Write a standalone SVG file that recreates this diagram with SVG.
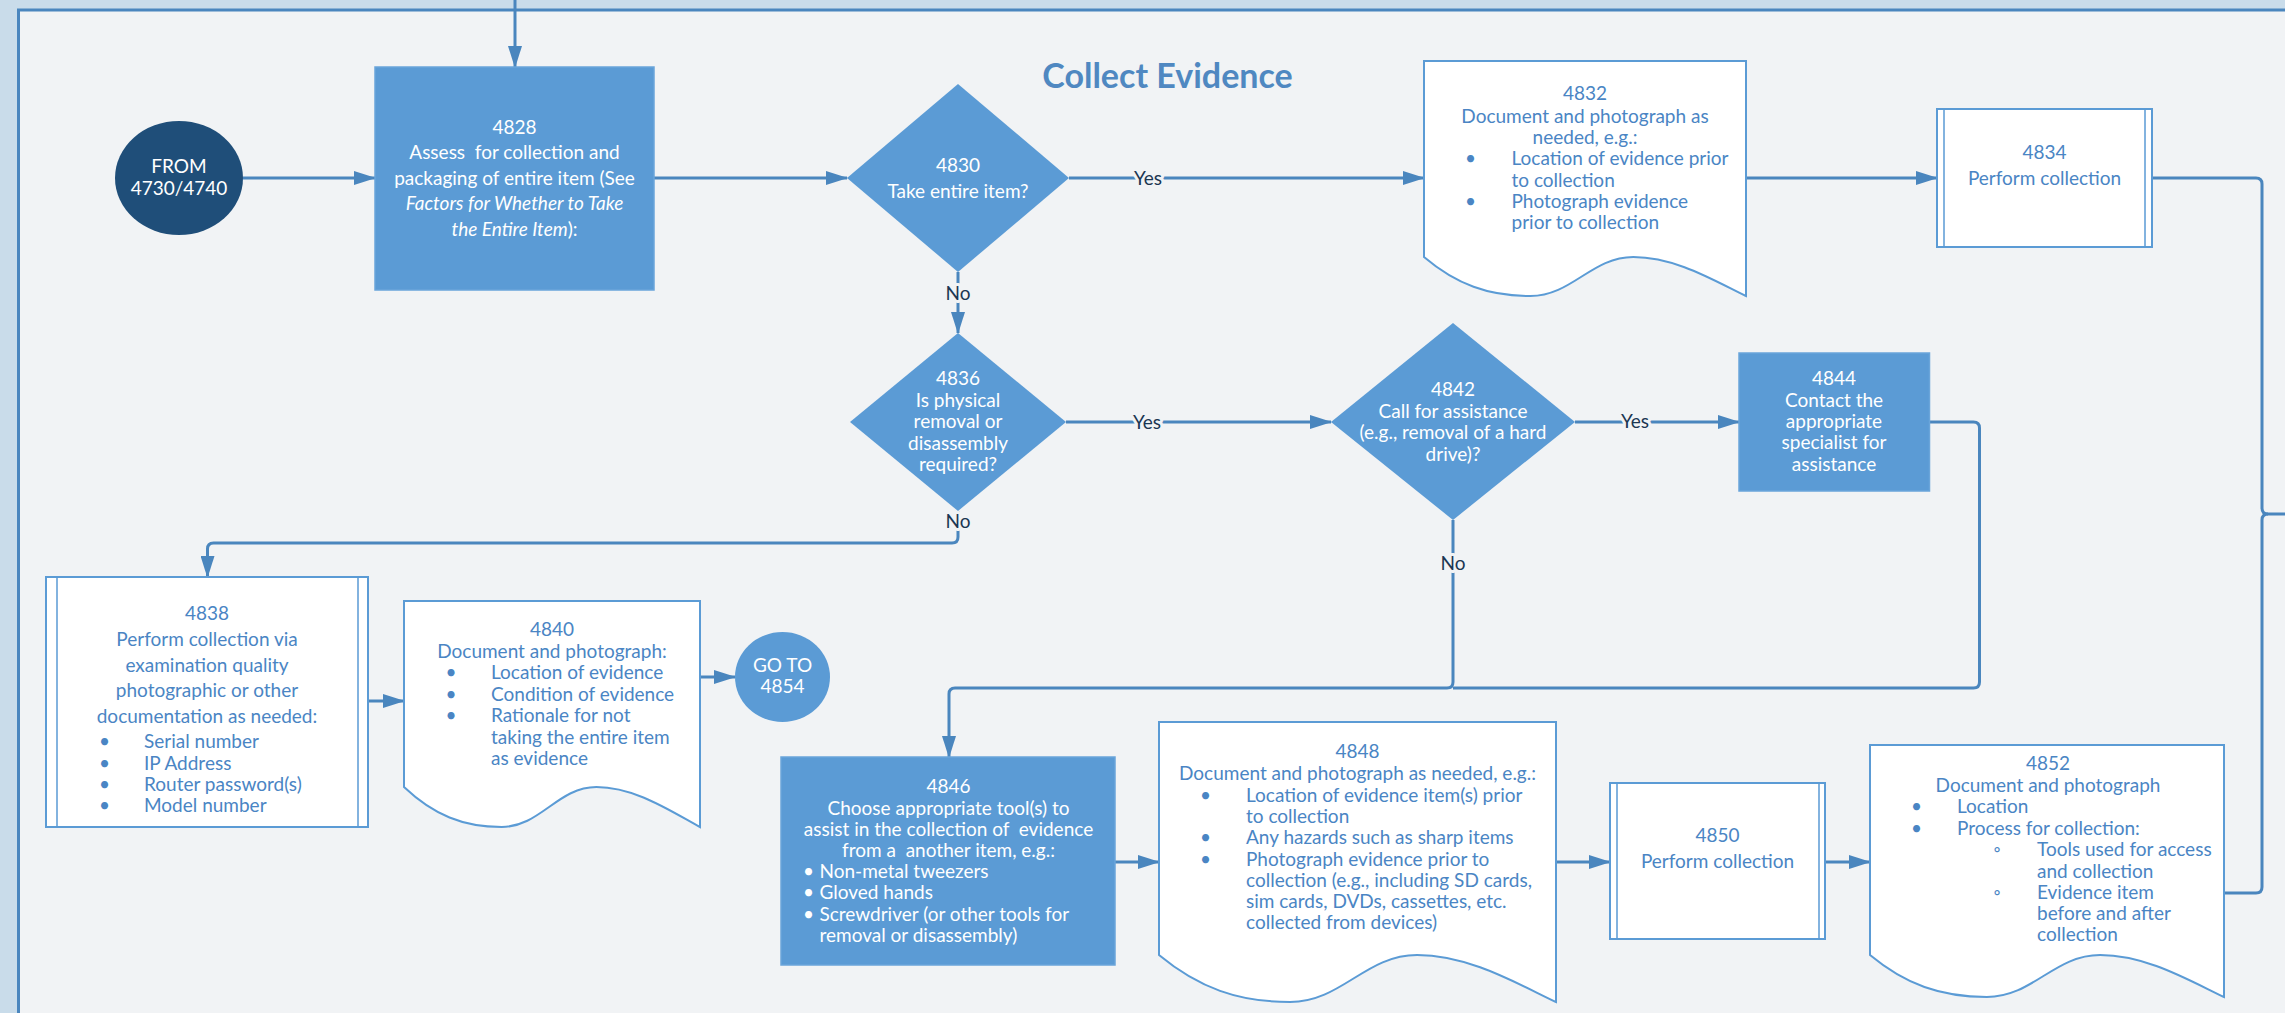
<svg xmlns="http://www.w3.org/2000/svg" width="2285" height="1013" viewBox="0 0 2285 1013">
<style>
text{font-family:Lato,"Liberation Sans",sans-serif;font-size:19px;white-space:pre}
.c{text-anchor:middle}
.w{fill:#ffffff}
.b{fill:#4A85C4}
.lbl{fill:#1B3652;text-anchor:middle;stroke:#F1F3F5;stroke-width:6px;paint-order:stroke;stroke-linejoin:round}
.fill{fill:#5B9BD5;stroke:#6AA5DA;stroke-width:1.5}
.wbox{fill:#ffffff;stroke:#5B9BD5;stroke-width:2}
.inner{stroke:#5B9BD5;stroke-width:1.5;fill:none}
.con path{fill:none;stroke:#4A86BE;stroke-width:3}
.arr{marker-end:url(#ah)}
</style>
<defs>
<marker id="ah" viewBox="0 0 22 14" refX="21" refY="7" markerWidth="22" markerHeight="14" markerUnits="userSpaceOnUse" orient="auto">
<path d="M0,0 L22,7 L0,14 Z" fill="#4A86BE"/>
</marker>
</defs>
<rect x="0" y="0" width="2285" height="1013" fill="#C9DCEA"/>
<rect x="18.5" y="10" width="2300" height="1050" fill="#F1F3F5" stroke="#4A86BE" stroke-width="3"/>
<text x="1167.5" y="88" class="c" style="font-size:34px;font-weight:bold;fill:#4F88C1">Collect Evidence</text>

<g id="connectors" class="con">
<path class="arr" d="M515,0 V67"/>
<path class="arr" d="M243,178 H375"/>
<path class="arr" d="M654,178 H847"/>
<path class="arr" d="M1069,178 H1424"/>
<path class="arr" d="M958,272 V333"/>
<path class="arr" d="M1746,178 H1937"/>
<path d="M2152,178 H2256 Q2262,178 2262,184 V508 Q2262,514 2268,514 H2290"/>
<path d="M2224,893 H2256 Q2262,893 2262,887 V520 Q2262,514 2268,514"/>
<path class="arr" d="M1066,422 H1331"/>
<path class="arr" d="M1575,422 H1739"/>
<path class="arr" d="M958,511 V537 Q958,543 952,543 H213.5 Q207.5,543 207.5,549 V577"/>
<path class="arr" d="M1453,520 V682 Q1453,688 1447,688 H955 Q949,688 949,694 V757"/>
<path d="M1929.5,422 H1973.5 Q1979.5,422 1979.5,428 V682 Q1979.5,688 1973.5,688 H1453"/>
<path class="arr" d="M368,701 H404"/>
<path class="arr" d="M700,677 H735"/>
<path class="arr" d="M1115,862 H1159"/>
<path class="arr" d="M1556,862 H1610"/>
<path class="arr" d="M1825,862 H1870"/>
<text class="lbl" x="1148" y="184.5">Yes</text>
<text class="lbl" x="958" y="299.5">No</text>
<text class="lbl" x="1147" y="428.5">Yes</text>
<text class="lbl" x="1635" y="427.5">Yes</text>
<text class="lbl" x="958" y="528">No</text>
<text class="lbl" x="1453" y="569.5">No</text>
</g>

<g id="from">
<ellipse cx="179" cy="178" rx="64" ry="57" fill="#1F4E79"/>
<text class="c w" x="179" y="173">FROM</text>
<text class="c w" x="179" y="195">4730/4740</text>
</g>

<g id="n4828">
<rect class="fill" x="375" y="67" width="279" height="223"/>
<text class="c w" x="514.5" y="133.5">4828</text>
<text class="c w" x="514.5" y="158.5">Assess  for collection and</text>
<text class="c w" x="514.5" y="184.5">packaging of entire item (See</text>
<text class="c w" x="514.5" y="209.5" font-style="italic">Factors for Whether to Take</text>
<text class="c w" x="514.5" y="235.5"><tspan font-style="italic">the Entire Item</tspan>):</text>
</g>

<g id="n4830">
<polygon fill="#5B9BD5" points="958,84 1069,178 958,272 847,178"/>
<text class="c w" x="958" y="171.5">4830</text>
<text class="c w" x="958" y="197.5">Take entire item?</text>
</g>

<g id="n4832">
<path class="wbox" d="M1424,257 C1456.2,284.3 1488.4,296 1530.3,296 C1572.1,296 1591.4,257 1633.3,257 C1675.2,257 1713.8,280.4 1746,296 V61 H1424 Z"/>
<text class="c b" x="1585" y="100">4832</text>
<text class="c b" x="1585" y="122.5">Document and photograph as</text>
<text class="c b" x="1585" y="143.5">needed, e.g.:</text>
<text class="c b" x="1470.5" y="164.5">•</text>
<text class="b" x="1511.5" y="164.5">Location of evidence prior</text>
<text class="b" x="1511.5" y="186.5">to collection</text>
<text class="c b" x="1470.5" y="207.5">•</text>
<text class="b" x="1511.5" y="207.5">Photograph evidence</text>
<text class="b" x="1511.5" y="228.5">prior to collection</text>
</g>

<g id="n4834">
<rect class="wbox" x="1937" y="109" width="215" height="138"/>
<path class="inner" d="M1944,109 V247 M2145,109 V247"/>
<text class="c b" x="2044.5" y="158.5">4834</text>
<text class="c b" x="2044.5" y="184.5">Perform collection</text>
</g>

<g id="n4836">
<polygon fill="#5B9BD5" points="958,333 1066,422 958,511 850,422"/>
<text class="c w" x="958" y="384.5">4836</text>
<text class="c w" x="958" y="406.5">Is physical</text>
<text class="c w" x="958" y="428">removal or</text>
<text class="c w" x="958" y="449.5">disassembly</text>
<text class="c w" x="958" y="470.5">required?</text>
</g>

<g id="n4842">
<polygon fill="#5B9BD5" points="1453,323 1575,422 1453,520 1331,422"/>
<text class="c w" x="1453" y="395.5">4842</text>
<text class="c w" x="1453" y="417.5">Call for assistance</text>
<text class="c w" x="1453" y="438.5">(e.g., removal of a hard</text>
<text class="c w" x="1453" y="460.5">drive)?</text>
</g>

<g id="n4844">
<rect class="fill" x="1739" y="353" width="190.5" height="138"/>
<text class="c w" x="1834" y="384.5">4844</text>
<text class="c w" x="1834" y="406.5">Contact the</text>
<text class="c w" x="1834" y="427.5">appropriate</text>
<text class="c w" x="1834" y="449">specialist for</text>
<text class="c w" x="1834" y="470.5">assistance</text>
</g>

<g id="n4838">
<rect class="wbox" x="46" y="577" width="322" height="250"/>
<path class="inner" d="M57,577 V827 M358,577 V827"/>
<text class="c b" x="207" y="619.5">4838</text>
<text class="c b" x="207" y="645.5">Perform collection via</text>
<text class="c b" x="207" y="671.5">examination quality</text>
<text class="c b" x="207" y="696.5">photographic or other</text>
<text class="c b" x="207" y="722.5">documentation as needed:</text>
<text class="c b" x="104.5" y="747.5">•</text>
<text class="b" x="144" y="747.5">Serial number</text>
<text class="c b" x="104.5" y="769.5">•</text>
<text class="b" x="144" y="769.5">IP Address</text>
<text class="c b" x="104.5" y="790.5">•</text>
<text class="b" x="144" y="790.5">Router password(s)</text>
<text class="c b" x="104.5" y="811.5">•</text>
<text class="b" x="144" y="811.5">Model number</text>
</g>

<g id="n4840">
<path class="wbox" d="M404,787 C433.6,815 463.2,827 501.7,827 C540.2,827 557.9,787 596.4,787 C634.9,787 670.4,811 700,827 V601 H404 Z"/>
<text class="c b" x="552" y="635.5">4840</text>
<text class="c b" x="552" y="657.5">Document and photograph:</text>
<text class="c b" x="451" y="678.5">•</text>
<text class="b" x="491" y="678.5">Location of evidence</text>
<text class="c b" x="451" y="700.5">•</text>
<text class="b" x="491" y="700.5">Condition of evidence</text>
<text class="c b" x="451" y="721.5">•</text>
<text class="b" x="491" y="721.5">Rationale for not</text>
<text class="b" x="491" y="743.5">taking the entire item</text>
<text class="b" x="491" y="764.5">as evidence</text>
</g>

<g id="goto">
<ellipse cx="782.5" cy="677" rx="47.5" ry="45" fill="#5B9BD5"/>
<text class="c w" x="782.5" y="671.5">GO TO</text>
<text class="c w" x="782.5" y="693">4854</text>
</g>

<g id="n4846">
<rect class="fill" x="781" y="757" width="334" height="208"/>
<text class="c w" x="948.5" y="793">4846</text>
<text class="c w" x="948.5" y="814.5">Choose appropriate tool(s) to</text>
<text class="c w" x="948.5" y="835.5">assist in the collection of  evidence</text>
<text class="c w" x="948.5" y="857">from a  another item, e.g.:</text>
<text class="c w" x="808.5" y="878">•</text>
<text class="w" x="819.5" y="878">Non-metal tweezers</text>
<text class="c w" x="808.5" y="899">•</text>
<text class="w" x="819.5" y="899">Gloved hands</text>
<text class="c w" x="808.5" y="920.5">•</text>
<text class="w" x="819.5" y="920.5">Screwdriver (or other tools for</text>
<text class="w" x="819.5" y="942">removal or disassembly)</text>
</g>

<g id="n4848">
<path class="wbox" d="M1159,955 C1198.7,987.9 1238.4,1002 1290,1002 C1341.6,1002 1365.4,955 1417.1,955 C1468.7,955 1516.3,983.2 1556,1002 V722 H1159 Z"/>
<text class="c b" x="1357.5" y="758">4848</text>
<text class="c b" x="1357.5" y="779.5">Document and photograph as needed, e.g.:</text>
<text class="c b" x="1205.5" y="801.5">•</text>
<text class="b" x="1246" y="801.5">Location of evidence item(s) prior</text>
<text class="b" x="1246" y="823">to collection</text>
<text class="c b" x="1205.5" y="844">•</text>
<text class="b" x="1246" y="844">Any hazards such as sharp items</text>
<text class="c b" x="1205.5" y="865.5">•</text>
<text class="b" x="1246" y="865.5">Photograph evidence prior to</text>
<text class="b" x="1246" y="886.5">collection (e.g., including SD cards,</text>
<text class="b" x="1246" y="908">sim cards, DVDs, cassettes, etc.</text>
<text class="b" x="1246" y="929">collected from devices)</text>
</g>

<g id="n4850">
<rect class="wbox" x="1610" y="783" width="215" height="156"/>
<path class="inner" d="M1617,783 V939 M1819,783 V939"/>
<text class="c b" x="1717.5" y="841.5">4850</text>
<text class="c b" x="1717.5" y="868">Perform collection</text>
</g>

<g id="n4852">
<path class="wbox" d="M1870,955 C1905.4,984.4 1940.8,997 1986.8,997 C2032.8,997 2054.1,955 2100.1,955 C2146.1,955 2188.6,980.2 2224,997 V745 H1870 Z"/>
<text class="c b" x="2048" y="770">4852</text>
<text class="c b" x="2048" y="791.5">Document and photograph</text>
<text class="c b" x="1916.5" y="813">•</text>
<text class="b" x="1957" y="813">Location</text>
<text class="c b" x="1916.5" y="834.5">•</text>
<text class="b" x="1957" y="834.5">Process for collection:</text>
<text class="c b" x="1997" y="856">◦</text>
<text class="b" x="2037" y="856">Tools used for access</text>
<text class="b" x="2037" y="877.5">and collection</text>
<text class="c b" x="1997" y="898.5">◦</text>
<text class="b" x="2037" y="898.5">Evidence item</text>
<text class="b" x="2037" y="919.5">before and after</text>
<text class="b" x="2037" y="940.5">collection</text>
</g>
</svg>
